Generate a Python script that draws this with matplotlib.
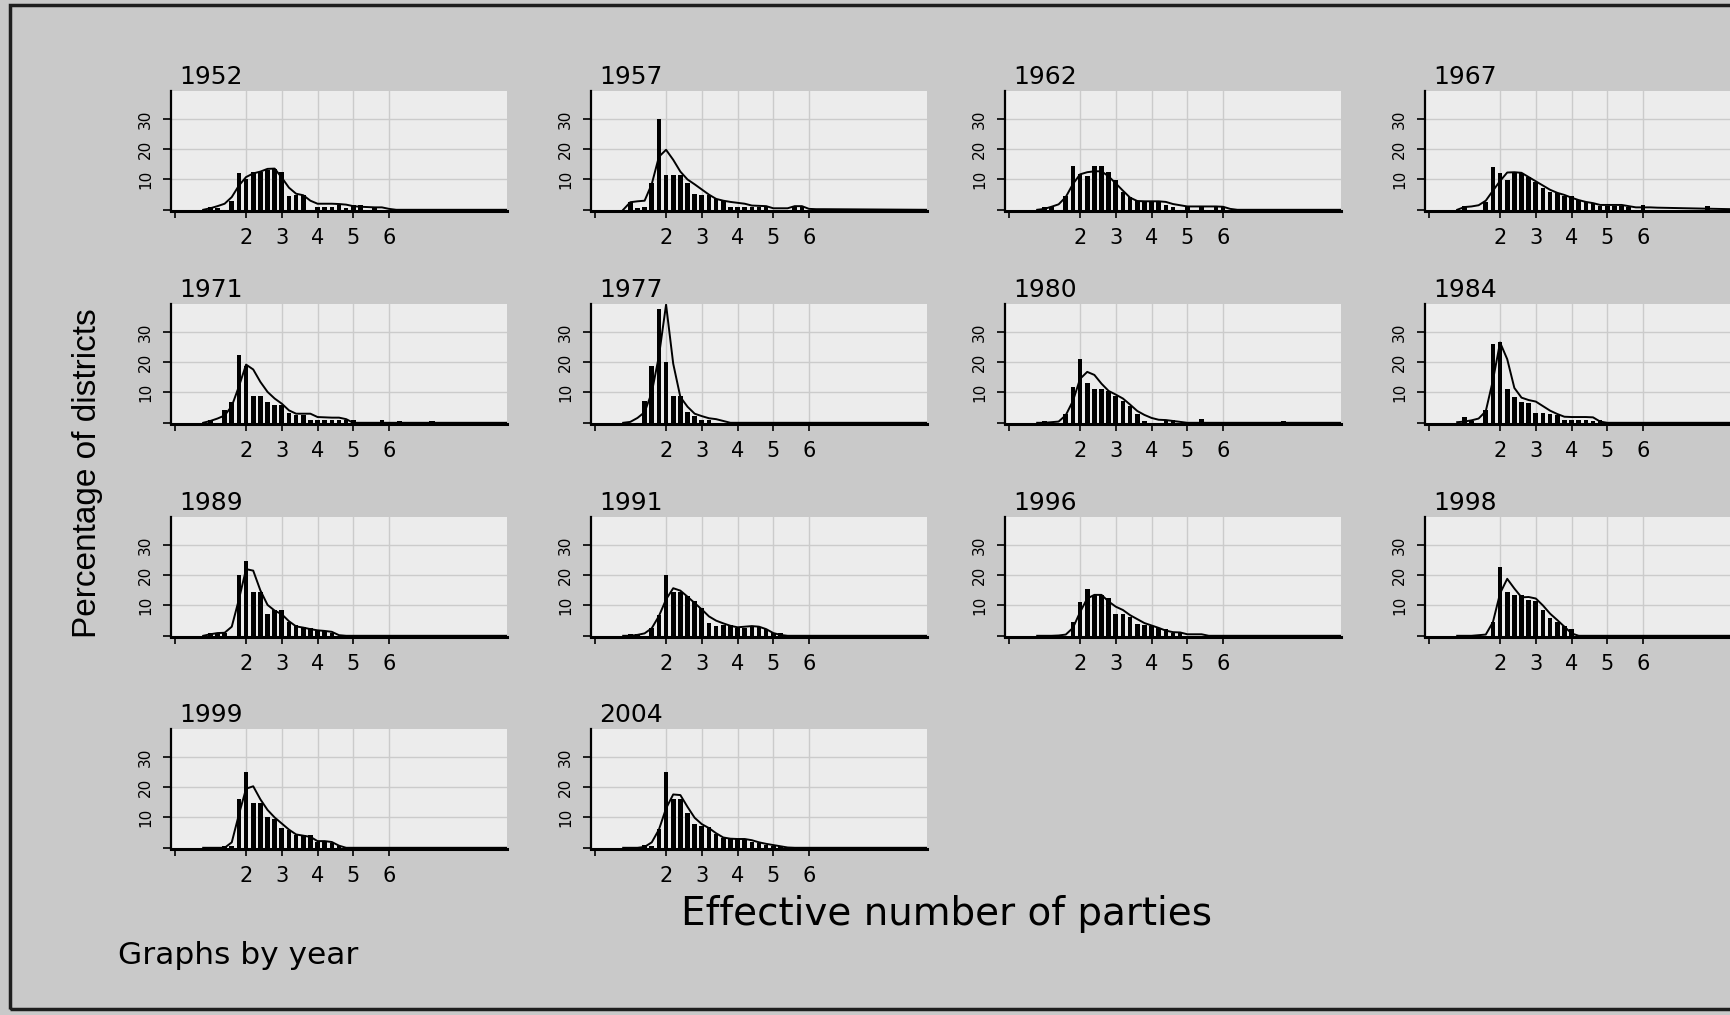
# %%--------------------------------------------------------------------
# EFFECTIVE NUMBER OF PARTIES BY DISTRICT, SMALL MULTIPLES BY YEAR
import numpy as np
import matplotlib
matplotlib.use("Agg")
import matplotlib.pyplot as plt
from matplotlib.patches import Rectangle

# Panels (read left to right, top to bottom)
YEARS = [1952, 1957, 1962, 1967, 1971, 1977, 1980, 1984,
         1989, 1991, 1996, 1998, 1999, 2004]

# Histogram bin centres (width 0.2) and kernel density evaluation grid
BAR_X = np.round(np.arange(1.0, 6.01, 0.2), 1)
DENS_X = np.round(np.arange(0.8, 6.41, 0.2), 1)
X_END = 9.3   # density line runs flat along the axis to the end of the range

# Percentage of districts per bin
h1952 = [1, 0.5, 0, 3, 12, 10, 12.5, 12.5, 13, 13.5, 12.5, 4.5, 5, 5, 0,
         1, 1, 1, 1.5, 0.5, 1.5, 1.5, 0, 1, 0, 0]
h1957 = [2.5, 0.5, 1, 9, 30, 11.4, 11.5, 11.5, 9, 5.2, 5, 5, 3.6, 3, 1,
         1, 1, 0.8, 0.8, 0.8, 0, 0, 0, 1.2, 1, 0]
h1962 = [0.9, 0.9, 0, 4.7, 14.5, 11.8, 11.2, 14.5, 14.5, 12.5, 9.8, 6, 4.1, 2.8, 2.5,
         2.5, 2.5, 1.5, 1.0, 0, 0.8, 0, 0.8, 0, 0.8, 1.0]
h1967 = [1.4, 0, 0, 2.7, 14.2, 12, 9.8, 12.3, 12.3, 10.9, 9.3, 7.1, 6, 5.5, 4.7,
         4.7, 3.3, 2.7, 2.2, 1.2, 1.2, 1.2, 1.2, 0.8, 0, 1.5]
h1971 = [0.8, 0, 4.1, 6.8, 22.4, 18.7, 8.7, 8.7, 7, 5.9, 5.9, 3.3, 2.5, 2.5, 1.0,
         1, 1, 1, 0.8, 0.8, 1.0, 0, 0, 0, 1.0, 0]
h1977 = [0, 0, 7.3, 18.8, 37.5, 19.9, 8.9, 8.9, 3.5, 2.2, 1.0, 1.0, 0, 0, 0,
         0, 0, 0, 0, 0, 0, 0, 0, 0, 0, 0]
h1980 = [0.5, 0, 0, 2.8, 11.7, 21, 13, 11, 11, 10.6, 9, 7.3, 5.7, 2.9, 0.5,
         0, 0, 1, 1, 0, 0, 0, 1.2, 0, 0, 0]
h1984 = [1.8, 0.5, 0, 4.3, 26, 26.5, 11.3, 8.6, 7.0, 6.5, 3.2, 3.2, 2.9, 2.5, 1,
         1, 1, 1, 0.5, 0.8, 0, 0, 0, 0, 0, 0]
h1989 = [0.8, 0.8, 0.8, 0, 20, 24.7, 14.3, 14.3, 7.1, 8.6, 8.6, 4.4, 3.6, 3, 2.5,
         1.5, 1.5, 1, 0, 0, 0, 0, 0, 0, 0, 0]
h1991 = [0.5, 0.5, 0, 2.7, 7, 20, 14.4, 14.4, 13, 11.4, 9.2, 4.3, 3.3, 3.6, 3.6,
         2.7, 2.7, 3, 3, 2.2, 1, 1, 0, 0, 0, 0]
h1996 = [0.3, 0.3, 0.3, 0, 4.4, 11.1, 15.5, 13.6, 13.6, 12.5, 7.1, 7.1, 6.3, 3.8, 3.5,
         3.3, 2.7, 2.2, 1, 1, 0, 0, 0, 0, 0, 0]
h1998 = [0.3, 0.3, 0.3, 0, 4.5, 22.7, 14.6, 13.3, 13.3, 11.9, 11.4, 8.6, 5.9, 4.5, 3.2,
         2.2, 0, 0, 0, 0, 0, 0, 0, 0, 0, 0]
h1999 = [0, 0, 0.5, 0.5, 16, 25, 14.8, 14.8, 10.3, 9.4, 6.5, 6, 4.3, 4.3, 4.3,
         2, 2, 1.5, 0.5, 0, 0, 0, 0, 0, 0, 0]
h2004 = [0, 0, 1, 0.5, 6.2, 25, 16, 16, 11.6, 7.8, 7.3, 6.7, 4.6, 3.3, 3,
         3, 3, 2, 1.5, 1, 0.5, 0.5, 0, 0, 0, 0]

# Isolated small bars out past 6 parties: (year, x, height)
EXTRA_BARS = [(1967, 7.8, 1.4), (1971, 6.3, 0.7), (1971, 7.2, 0.7), (1980, 7.7, 0.5)]

# Kernel density (percent scale) on DENS_X
d1952 = [0, 0.5, 1.2, 2.0, 4.2, 8.0, 10.8, 12.0, 12.6, 13.5, 13.6, 10.6, 7.3, 5.3, 4.8,
         3.0, 2.0, 2.0, 2.0, 1.9, 1.7, 1.2, 1.0, 0.9, 0.8, 0.8, 0.3, 0, 0]
d1957 = [0, 2.5, 2.8, 3.0, 8.5, 17.5, 19.8, 16.5, 12.6, 10.0, 8.4, 6.7, 5.0, 3.6, 3.0,
         2.6, 2.3, 2.0, 1.4, 1.3, 1.2, 0.5, 0.5, 0.5, 1.2, 1.2, 0.3, 0.2, 0.2]
d1962 = [0, 0.3, 1.0, 1.8, 4.2, 8.5, 11.7, 12.4, 12.7, 12.7, 11.0, 8.7, 6.3, 4.0, 2.9,
         2.8, 2.8, 2.8, 2.6, 1.9, 1.5, 1.1, 1.1, 1.1, 1.1, 1.1, 1.0, 0.3, 0]
d1967 = [0, 0.9, 1.1, 1.5, 3.0, 6.3, 9.5, 12.3, 12.4, 12.2, 10.8, 9.4, 8.0, 6.6, 5.6,
         4.9, 4.0, 3.2, 2.6, 2.2, 1.6, 1.6, 1.6, 1.6, 1.2, 0.8, 0.8, 0.8, 0.7]
d1971 = [0, 0.6, 1.4, 2.4, 5.5, 12.0, 19.2, 17.6, 13.5, 10.2, 8.0, 6.3, 4.1, 3.0, 3.0,
         3.0, 1.9, 1.8, 1.7, 1.7, 1.2, 0, 0, 0, 0, 0, 0, 0, 0]
d1977 = [0, 0.3, 1.6, 3.5, 10, 22, 39, 19.5, 8.5, 5.3, 3.0, 2.2, 1.5, 1.2, 0.6,
         0, 0, 0, 0, 0, 0, 0, 0, 0, 0, 0, 0, 0, 0]
d1980 = [0, 0, 0.2, 0.4, 2.5, 7.2, 14.5, 16.8, 15.8, 12.9, 10.5, 9.3, 8.0, 6.0, 3.9,
         2.6, 1.6, 1.0, 0.9, 0.6, 0.3, 0, 0, 0, 0, 0, 0, 0, 0]
d1984 = [0.2, 0.4, 0.8, 1.4, 3.8, 14, 26.5, 21, 11.5, 8.3, 7.5, 7.0, 5.5, 4.0, 2.9,
         2.0, 1.9, 1.9, 1.9, 1.8, 0.4, 0, 0, 0, 0, 0, 0, 0, 0]
d1989 = [0, 0.5, 0.9, 1.0, 3.0, 12, 22, 21.5, 15, 10.2, 8.3, 7.1, 4.8, 3.1, 2.7,
         2.2, 1.8, 1.6, 1.3, 0.2, 0, 0, 0, 0, 0, 0, 0, 0, 0]
d1991 = [0, 0, 0.3, 0.8, 2.5, 6.5, 12.0, 15.7, 14.9, 12.9, 10.8, 8.7, 6.4, 5.0, 4.1,
         3.3, 2.8, 3.0, 3.2, 3.0, 2.2, 0.9, 0.3, 0, 0, 0, 0, 0, 0]
d1996 = [0, 0, 0, 0.1, 0.4, 2.6, 7.8, 12.3, 13.5, 13.5, 11.3, 9.6, 8.5, 6.8, 5.5,
         4.2, 3.4, 2.6, 1.7, 1.2, 1.1, 0.5, 0.5, 0.5, 0, 0, 0, 0, 0]
d1998 = [0, 0, 0, 0.2, 0.4, 4.5, 14, 18.8, 15.6, 12.7, 12.8, 12.3, 10.0, 7.3, 5.2,
         3.0, 0.8, 0, 0, 0, 0, 0, 0, 0, 0, 0, 0, 0, 0]
d1999 = [0, 0, 0, 0, 1.8, 11, 19.5, 20.3, 16, 12.5, 10.0, 8.0, 6.0, 4.4, 4.0,
         3.6, 2.2, 2.2, 1.9, 0.7, 0, 0, 0, 0, 0, 0, 0, 0, 0]
d2004 = [0, 0, 0, 0.3, 1.8, 6.0, 13.0, 17.6, 17.4, 13.5, 9.9, 7.8, 6.5, 4.8, 3.4,
         3.0, 2.9, 2.9, 2.5, 1.8, 1.3, 0.9, 0.5, 0.1, 0, 0, 0, 0, 0]

HEIGHTS = dict(zip(YEARS, [h1952, h1957, h1962, h1967, h1971, h1977, h1980, h1984,
                           h1989, h1991, h1996, h1998, h1999, h2004]))
DENSITY = dict(zip(YEARS, [d1952, d1957, d1962, d1967, d1971, d1977, d1980, d1984,
                           d1989, d1991, d1996, d1998, d1999, d2004]))

X_TICKS = [0, 2, 3, 4, 5, 6]
X_TICK_LABELS = ["", "2", "3", "4", "5", "6"]
Y_TICKS = [0, 10, 20, 30]
Y_TICK_LABELS = ["", "10", "20", "30"]

# Colours of the scanned page
PAGE = "#c9c9c9"
PANEL = "#ececec"
GRID = "#cbcbcb"

# Layout in pixels
W, H = 1731, 1015
COL_LEFT = [171, 591, 1005, 1425]
ROW_TOP = [91, 304, 517, 729]
AX_W, AX_H = 336, 120

fig = plt.figure(figsize=(W / 100, H / 100), dpi=100)
fig.patch.set_facecolor(PAGE)

for i, year in enumerate(YEARS):
    r, c = divmod(i, 4)
    ax = fig.add_axes([COL_LEFT[c] / W, 1 - (ROW_TOP[r] + AX_H) / H, AX_W / W, AX_H / H])
    ax.set_facecolor(PANEL)

    # Grid (only at labelled positions)
    for gx in X_TICKS[1:]:
        ax.axvline(gx, color=GRID, lw=1.0, zorder=0)
    for gy in Y_TICKS[1:]:
        ax.axhline(gy, color=GRID, lw=1.0, zorder=0)

    # Histogram
    ax.bar(BAR_X, HEIGHTS[year], width=0.13, color="black", linewidth=0, zorder=2)
    for ex_year, ex_x, ex_h in EXTRA_BARS:
        if ex_year == year:
            ax.bar(ex_x, ex_h, width=0.15, color="black", linewidth=0, zorder=2)

    # Kernel density
    ax.plot(np.append(DENS_X, X_END), np.append(DENSITY[year], 0),
            color="black", lw=1.4, zorder=3)

    ax.set_xlim(-0.1, X_END)
    ax.set_ylim(-0.4, 39.2)

    ax.set_xticks(X_TICKS)
    ax.set_xticklabels(X_TICK_LABELS, fontsize=15)
    ax.set_yticks(Y_TICKS)
    ax.set_yticklabels(Y_TICK_LABELS, fontsize=11, rotation=90, va="center")
    ax.tick_params(axis="x", direction="out", length=5, width=1.2, pad=7)
    ax.tick_params(axis="y", direction="out", length=6, width=1.2, pad=7)

    for side in ["top", "right"]:
        ax.spines[side].set_visible(False)
    ax.spines["left"].set_linewidth(1.6)
    ax.spines["bottom"].set_linewidth(2.2)

    ax.set_title(str(year), loc="left", x=0.025, pad=5, fontsize=18)

# Outer labels
fig.text(947 / W, 1 - 914 / H, "Effective number of parties",
         ha="center", va="center", fontsize=28)
fig.text(118 / W, 1 - 955 / H, "Graphs by year", ha="left", va="center", fontsize=22.5)
fig.text(88 / W, 1 - 473 / H, "Percentage of districts", rotation=90,
         ha="center", va="center", fontsize=24, family="Liberation Sans")

# Frame of the graph region
fig.add_artist(Rectangle((10 / W, 1 - 1009 / H), 1760 / W, 1004 / H,
                         transform=fig.transFigure, fill=False,
                         lw=2.5, edgecolor="#1e1e1e"))

fig.savefig("out.png", dpi=100, facecolor=fig.get_facecolor())
